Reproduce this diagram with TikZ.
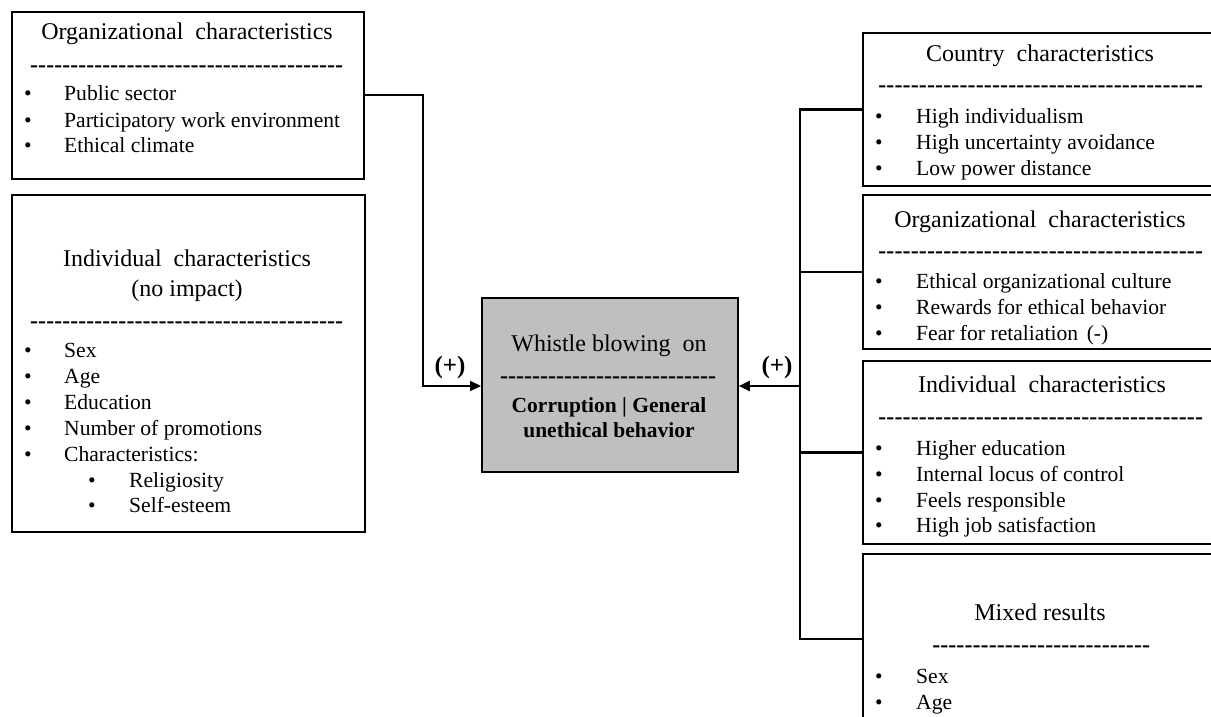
\documentclass[tikz,border=0pt]{standalone}
\usepackage{fontspec}
\setmainfont{Liberation Serif}
\usetikzlibrary{arrows.meta}

% a row of hyphens stretched to a given width
\newcommand\dashfill[1]{\hbox to #1{\xleaders\hbox{-}\hfill}}
% bullet + item text: name, bullet x, text x, baseline y, text
\newcommand\bulletrow[5]{%
  \node[bul] (#1b) at (#2,#4) {\textbullet};
  \node[itm] (#1) at (#3,#4) {#5};}

\begin{document}
\begin{tikzpicture}[x=1pt,y=-1pt,
  box/.style={draw=black, line width=1.8pt, inner sep=0pt, anchor=north west},
  itm/.style={anchor=base west, inner sep=0pt, font=\fontsize{21.6}{26}\selectfont},
  bul/.style={anchor=base, inner sep=0pt, font=\fontsize{21.6}{26}\selectfont},
  ttl/.style={anchor=base, inner sep=0pt, font=\fontsize{24}{29}\selectfont},
  dsh/.style={anchor=base west, inner sep=0pt, font=\fontsize{24}{29}\selectfont\bfseries},
  bld/.style={anchor=base, inner sep=0pt, font=\fontsize{21.5}{26}\selectfont\bfseries},
  sgn/.style={anchor=base, inner sep=0pt, font=\fontsize{25}{30}\selectfont\bfseries},
  conn/.style={draw=black, line width=2.2pt},
  tip/.style={-{Triangle[length=11pt,width=10pt]}}
]
\clip (0,0) rectangle (1211,717);
\fill[white] (0,0) rectangle (1211,717);

% ---------- boxes ----------
\node[box, minimum width=352pt, minimum height=167pt] (orgL) at (11,11) {};
\node[box, minimum width=353pt, minimum height=337pt] (indL) at (11,194) {};
\node[box, fill=black!25, minimum width=256pt, minimum height=174pt] (wb) at (481,297) {};
\node[box, minimum width=356pt, minimum height=153pt] (country) at (862,32) {};
\node[box, minimum width=356pt, minimum height=154pt] (orgR) at (862,194) {};
\node[box, minimum width=356pt, minimum height=183pt] (indR) at (862,360) {};
\node[box, minimum width=356pt, minimum height=170pt] (mixed) at (862,553) {};

% ---------- left: organizational characteristics ----------
\node[ttl] (orgLt) at (187,40) {Organizational\hspace{0.25em} characteristics};
\node[dsh] (orgLd) at (30,72.3) {\dashfill{313pt}};
\bulletrow{orgLa}{28}{64}{101}{Public sector}
\bulletrow{orgLb}{28}{64}{127}{Participatory work environment}
\bulletrow{orgLc}{28}{64}{152}{Ethical climate}

% ---------- left: individual characteristics ----------
\node[ttl] (indLt) at (187,266) {Individual\hspace{0.25em} characteristics};
\node[ttl] (indLs) at (187,296) {(no impact)};
\node[dsh] (indLd) at (30,328.3) {\dashfill{313pt}};
\bulletrow{indLa}{28}{64}{357}{Sex}
\bulletrow{indLb}{28}{64}{383}{Age}
\bulletrow{indLc}{28}{64}{409}{Education}
\bulletrow{indLe}{28}{64}{435}{Number of promotions}
\bulletrow{indLf}{28}{64}{461}{Characteristics:}
\bulletrow{indLg}{92}{129}{487}{Religiosity}
\bulletrow{indLh}{92}{129}{512}{Self-esteem}

% ---------- centre ----------
\node[ttl] (wbt) at (609,351) {Whistle blowing\hspace{0.25em} on};
\node[dsh] (wbd) at (500,383.3) {\dashfill{216pt}};
\node[bld] (wba) at (609,412) {Corruption | General};
\node[bld] (wbb) at (609,437) {unethical behavior};

% ---------- right: country ----------
\node[ttl] (countryt) at (1040,62) {Country\hspace{0.25em} characteristics};
\node[dsh] (countryd) at (878,92.3) {\dashfill{325pt}};
\bulletrow{countrya}{879}{916}{123}{High individualism}
\bulletrow{countryb}{879}{916}{149}{High uncertainty avoidance}
\bulletrow{countryc}{879}{916}{175}{Low power distance}

% ---------- right: organizational ----------
\node[ttl] (orgRt) at (1040,227) {Organizational\hspace{0.25em} characteristics};
\node[dsh] (orgRd) at (878,258.3) {\dashfill{325pt}};
\bulletrow{orgRa}{879}{916}{288}{Ethical organizational culture}
\bulletrow{orgRb}{879}{916}{314}{Rewards for ethical behavior}
\bulletrow{orgRc}{879}{916}{340}{Fear for retaliation\hspace{0.15em} (-)}

% ---------- right: individual ----------
\node[ttl] (indRt) at (1042,392) {Individual\hspace{0.25em} characteristics};
\node[dsh] (indRd) at (878,424.3) {\dashfill{325pt}};
\bulletrow{indRa}{879}{916}{455}{Higher education}
\bulletrow{indRb}{879}{916}{481}{Internal locus of control}
\bulletrow{indRc}{879}{916}{507}{Feels responsible}
\bulletrow{indRe}{879}{916}{532}{High job satisfaction}

% ---------- right: mixed ----------
\node[ttl] (mixedt) at (1040,620) {Mixed results};
\node[dsh] (mixedd) at (932,652.3) {\dashfill{218pt}};
\bulletrow{mixeda}{879}{916}{683}{Sex}
\bulletrow{mixedb}{879}{916}{709}{Age}

% ---------- connectors ----------
\coordinate (lhub) at (423,386);
\coordinate (rhub) at (800,386);
\draw[conn, tip] (orgL.east) -| (lhub) -- (lhub -| wb.west);
\draw[conn] (country.west) -- (country.west -| rhub) -- (mixed.west -| rhub) -- (mixed.west);
\draw[conn] (orgR.west) -- (orgR.west -| rhub);
\draw[conn] (indR.west) -- (indR.west -| rhub);
\draw[conn, tip] (rhub) -- (rhub -| wb.east);

\node[sgn] (plusL) at (450,373) {(+)};
\node[sgn] (plusR) at (777,373) {(+)};
\end{tikzpicture}
\end{document}
